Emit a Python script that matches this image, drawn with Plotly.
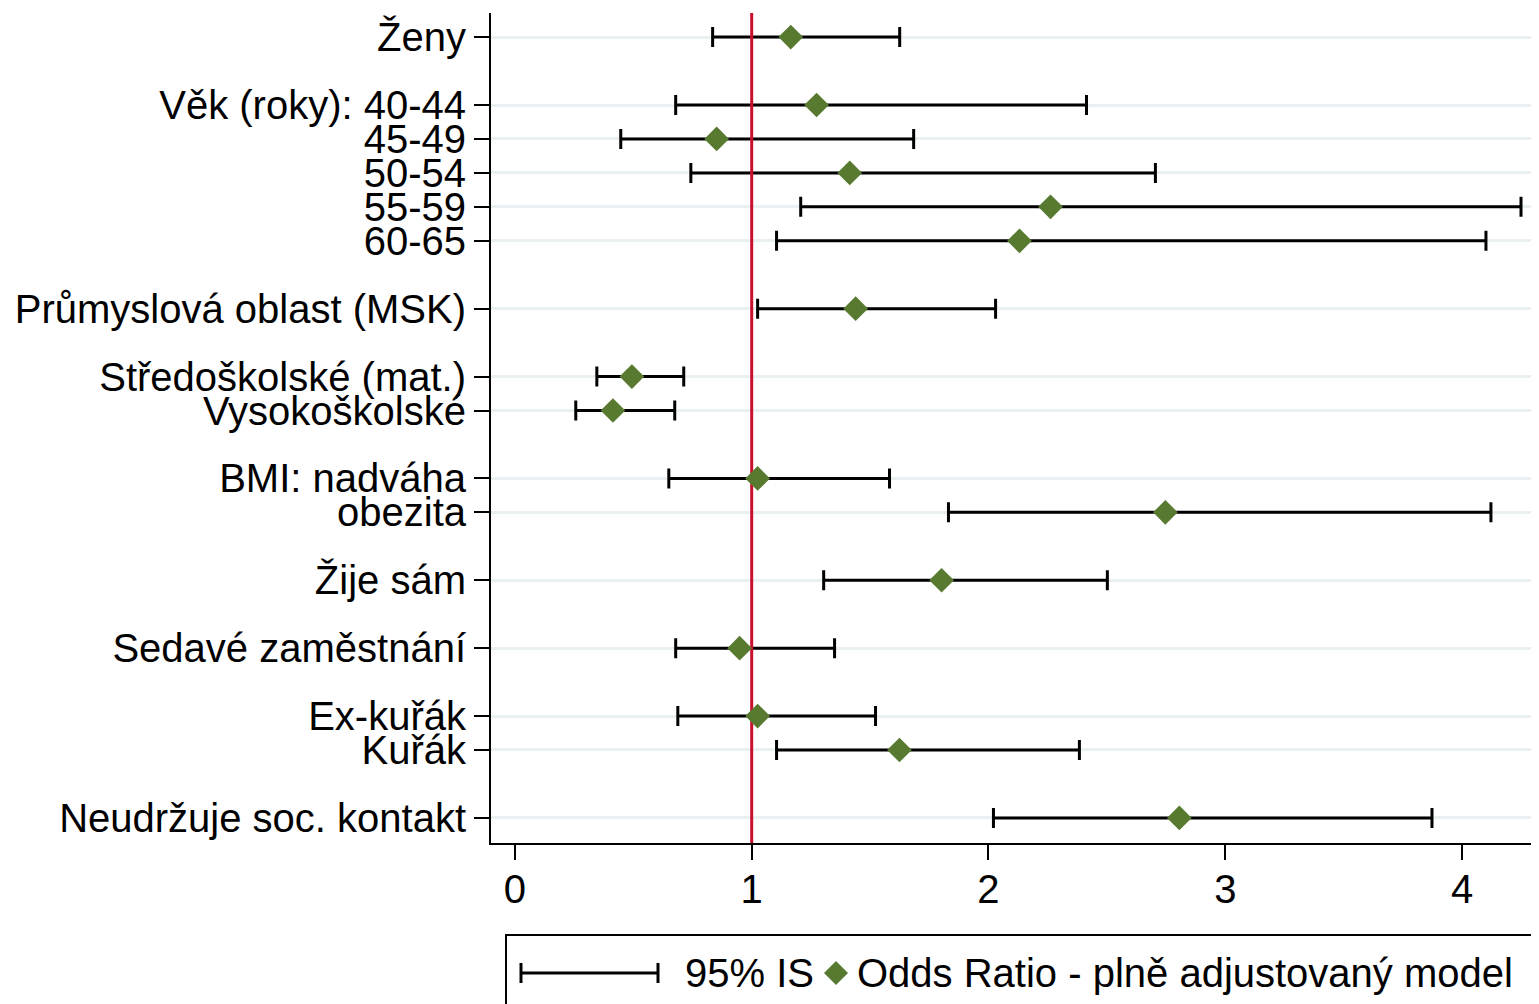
import plotly.graph_objects as go

# ---- data ----
labels = ["Ženy", "Věk (roky): 40-44", "45-49", "50-54", "55-59", "60-65",
          "Průmyslová oblast (MSK)", "Středoškolské (mat.)", "Vysokoškolské",
          "BMI: nadváha", "obezita", "Žije sám", "Sedavé zaměstnání",
          "Ex-kuřák", "Kuřák", "Neudržuje soc. kontakt"]
row_pos = [0, 2, 3, 4, 5, 6, 8, 10, 11, 13, 14, 16, 18, 20, 21, 23]
odds_ratio = [1.165, 1.274, 0.852, 1.414, 2.262, 2.131, 1.439, 0.494, 0.414,
              1.025, 2.747, 1.802, 0.949, 1.025, 1.624, 2.806]
ci_low = [0.835, 0.679, 0.447, 0.743, 1.207, 1.105, 1.025, 0.346, 0.257,
          0.650, 1.831, 1.304, 0.679, 0.688, 1.105, 2.021]
ci_high = [1.625, 2.414, 1.684, 2.705, 4.249, 4.101, 2.030, 0.713, 0.675,
           1.582, 4.122, 2.502, 1.350, 1.523, 2.384, 3.873]
x_ticks = [0, 1, 2, 3, 4]
ref_value = 1

FONT = "Liberation Sans, Arial, sans-serif"
GREEN = "#587a30"
RED = "#c8102e"
YR = [23.74, -0.71]

fig = go.Figure()

# CI error bars (invisible center markers)
fig.add_trace(go.Scatter(
    x=odds_ratio, y=row_pos, mode="markers",
    marker=dict(size=1, color="rgba(0,0,0,0)"),
    error_x=dict(type="data", symmetric=False,
                 array=[h - o for h, o in zip(ci_high, odds_ratio)],
                 arrayminus=[o - l for o, l in zip(odds_ratio, ci_low)],
                 color="black", thickness=3, width=10),
    showlegend=False, hoverinfo="skip"))

# reference line at OR = 1
fig.add_trace(go.Scatter(
    x=[ref_value, ref_value], y=YR, mode="lines",
    line=dict(color=RED, width=3), showlegend=False, hoverinfo="skip"))

# odds ratio diamonds
fig.add_trace(go.Scatter(
    x=odds_ratio, y=row_pos, mode="markers",
    marker=dict(symbol="diamond", size=19, color=GREEN, line=dict(width=0)),
    showlegend=False))

fig.update_layout(
    width=1531, height=996,
    margin=dict(l=483, r=0, t=5, b=161),
    paper_bgcolor="white", plot_bgcolor="white",
    font=dict(family=FONT, size=40, color="black"),
    showlegend=False,
    xaxis=dict(range=[-0.101, 4.325], tickvals=x_ticks, ticktext=[str(t) for t in x_ticks],
               showgrid=False, zeroline=False, showline=True, linecolor="black",
               linewidth=2, ticks="outside", ticklen=15, tickwidth=2, tickcolor="black",
               ticklabelstandoff=-5,
               tickfont=dict(size=40, family=FONT)),
    yaxis=dict(range=YR, tickvals=row_pos, ticktext=labels,
               showgrid=True, gridcolor="#e9f0f2", gridwidth=3, zeroline=False,
               showline=True, linecolor="black", linewidth=2,
               ticks="outside", ticklen=15, tickwidth=2, tickcolor="black",
               tickfont=dict(size=40, family=FONT)),
)

# ---- custom legend (paper coordinates) ----
def px_x(px):
    return (px - 491) / 1048

def px_y(py):
    return (843 - py) / 830

ly = px_y(973)
shapes = [
    dict(type="rect", xref="paper", yref="paper", x0=px_x(506), x1=px_x(1532),
         y0=px_y(1012), y1=px_y(935), line=dict(color="black", width=2),
         fillcolor="white", layer="below"),
    dict(type="line", xref="paper", yref="paper", x0=px_x(521), x1=px_x(658),
         y0=ly, y1=ly, line=dict(color="black", width=3)),
    dict(type="line", xref="paper", yref="paper", x0=px_x(521), x1=px_x(521),
         y0=px_y(963), y1=px_y(983), line=dict(color="black", width=3)),
    dict(type="line", xref="paper", yref="paper", x0=px_x(658), x1=px_x(658),
         y0=px_y(963), y1=px_y(983), line=dict(color="black", width=3)),
]
cx, dx, dy = px_x(836), 12 / 1048, 12 / 830
shapes.append(dict(type="path", xref="paper", yref="paper",
                   path=f"M {cx - dx} {ly} L {cx} {ly + dy} L {cx + dx} {ly} L {cx} {ly - dy} Z",
                   fillcolor=GREEN, line=dict(width=0)))
fig.update_layout(shapes=shapes)

fig.add_annotation(xref="paper", yref="paper", x=px_x(683), y=ly, text="95% IS",
                   showarrow=False, xanchor="left", yanchor="middle",
                   font=dict(size=40, family=FONT, color="black"))
fig.add_annotation(xref="paper", yref="paper", x=px_x(855), y=ly,
                   text="Odds Ratio - plně adjustovaný model",
                   showarrow=False, xanchor="left", yanchor="middle",
                   font=dict(size=40, family=FONT, color="black"))

fig.write_html("out.html")
